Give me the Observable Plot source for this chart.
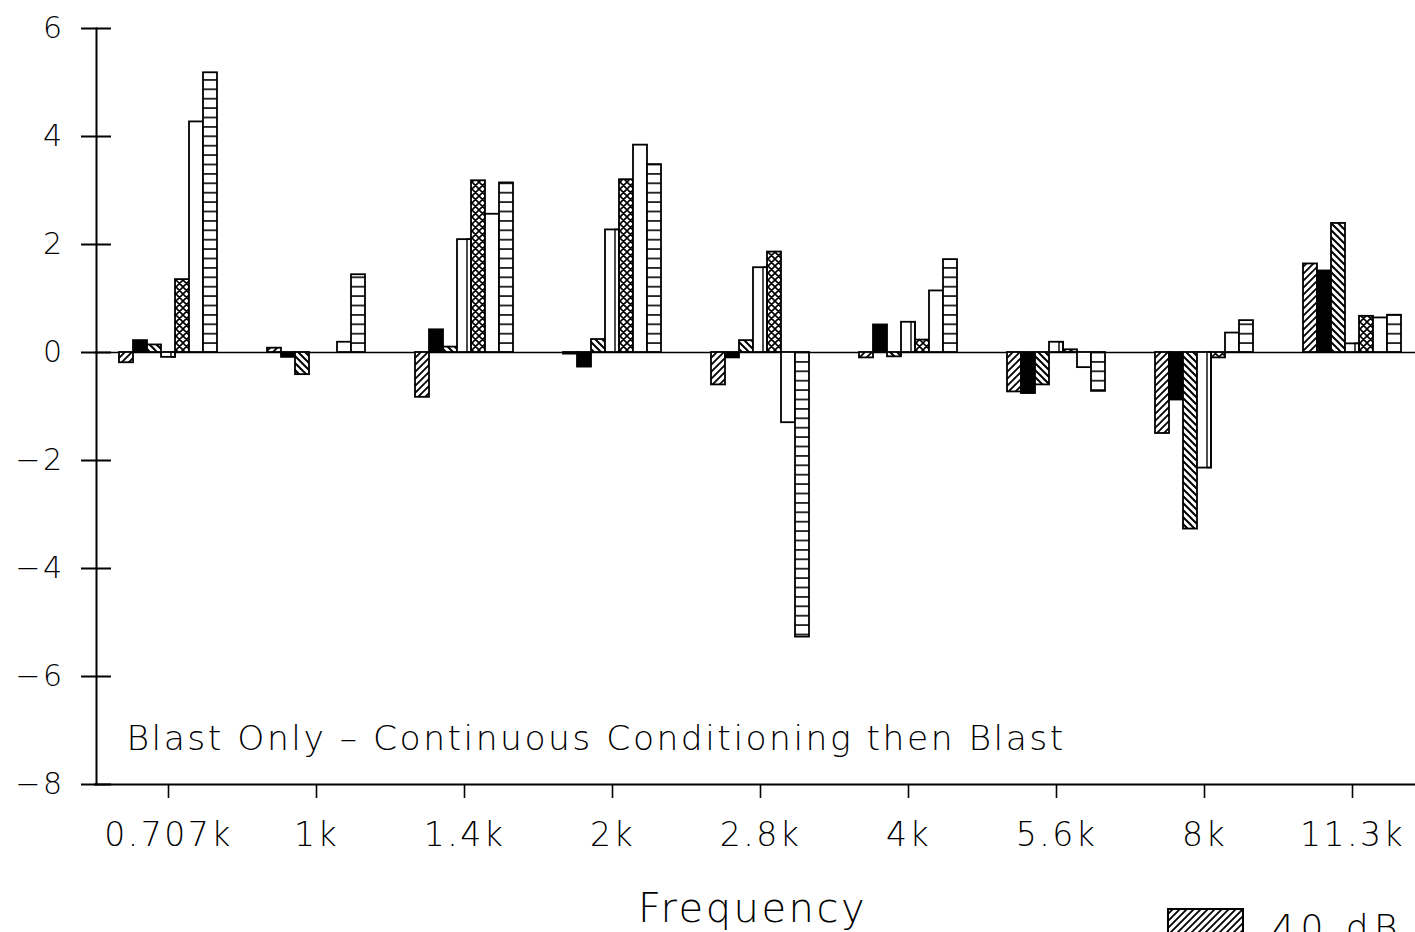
<!DOCTYPE html>
<html>
<head>
<meta charset="utf-8">
<script src="https://cdn.jsdelivr.net/npm/d3@7"></script>
<script src="https://cdn.jsdelivr.net/npm/@observablehq/plot@0.6"></script>
<style>
  html, body { margin: 0; padding: 0; background: #fff; overflow: hidden; }
  #wrap { position: relative; width: 1415px; height: 932px; overflow: hidden; background: #fff; }
  #wrap > svg { max-width: none !important; height: 932px !important; }
  #wrap svg text { letter-spacing: 2.5px; font-weight: 200; }
  #legend { position: absolute; left: 1167px; top: 908px; display: flex; align-items: flex-start;
            font-family: "DejaVu Sans"; font-size: 36px; font-weight: 200; letter-spacing: 5.5px; }
  #legend span { margin-left: 28px; line-height: 1; padding-top: 2px; }
</style>
</head>
<body>
<div id="wrap"></div>
<script>
// ---- data ----
const frequencies = ["0.707k", "1k", "1.4k", "2k", "2.8k", "4k", "5.6k", "8k", "11.3k"];
const seriesNames = ["40 dB", "Series 2", "Series 3", "Series 4", "Series 5", "Series 6", "Series 7"];
const series1 = [-0.19, 0.08, -0.83, -0.03, -0.60, -0.10, -0.73, -1.50, 1.64];
const series2 = [0.22, -0.09, 0.42, -0.27, -0.10, 0.51, -0.76, -0.88, 1.51];
const series3 = [0.14, -0.41, 0.10, 0.24, 0.22, -0.08, -0.60, -3.27, 2.39];
const series4 = [-0.09, 0.00, 2.09, 2.27, 1.57, 0.56, 0.19, -2.14, 0.16];
const series5 = [1.35, 0.00, 3.18, 3.20, 1.86, 0.23, 0.05, -0.10, 0.67];
const series6 = [4.27, 0.19, 2.56, 3.84, -1.30, 1.14, -0.28, 0.36, 0.64];
const series7 = [5.18, 1.44, 3.14, 3.48, -5.27, 1.72, -0.72, 0.59, 0.69];
const yTicks = [-8, -6, -4, -2, 0, 2, 4, 6];
const annotation = "Blast Only – Continuous Conditioning then Blast";
const xLabel = "Frequency";

// fills for each series (patterns are defined below)
const seriesFills = ["url(#p-fwd)", "black", "url(#p-back)", "white", "url(#p-cross)", "white", "url(#p-horiz)"];

const allSeries = [series1, series2, series3, series4, series5, series6, series7];
const rows = [];
frequencies.forEach((f, i) => {
  allSeries.forEach((vals, j) => rows.push({freq: f, series: seriesNames[j], value: vals[i]}));
});

const chart = Plot.plot({
  width: 1426,
  height: 932,
  marginLeft: 93,
  marginRight: 0,
  marginTop: 28,
  marginBottom: 148,
  style: {fontFamily: "DejaVu Sans", fontSize: "33px", color: "black", background: "white", overflow: "visible"},
  fx: {domain: frequencies, padding: 0, axis: null},
  x: {domain: seriesNames, paddingInner: 0, paddingOuter: 1.5, axis: null},
  y: {domain: [-8, 6], axis: null},
  color: {type: "ordinal", domain: seriesNames, range: seriesFills},
  marks: [
    Plot.ruleY([0], {stroke: "black", strokeWidth: 1.6}),
    Plot.ruleY([-8], {stroke: "black", strokeWidth: 2}),
    Plot.frame({anchor: "left", facetAnchor: "left", stroke: "black", strokeWidth: 2, dx: 2}),
    Plot.barY(rows, {fx: "freq", x: "series", y: "value", fill: "series", stroke: "black", strokeWidth: 1.8}),
    Plot.barY(rows.filter(d => d.series === seriesNames[3]),
      {fx: "freq", x: "series", y: "value", fill: "none", stroke: "black", strokeWidth: 1.4, insetLeft: 10}),
    Plot.axisY({ticks: yTicks, tickSize: 30, dx: 17, tickPadding: 17, fontSize: 30, label: null, strokeWidth: 2}),
    Plot.axisFx({anchor: "bottom", tickSize: 14, tickPadding: 24, fontSize: 33, label: null, strokeWidth: 1.6}),
    Plot.text([xLabel], {fx: () => frequencies[4], text: d => d, frameAnchor: "bottom",
      textAnchor: "middle", lineAnchor: "middle", dx: -8, dy: 125, fontSize: 40}),
    Plot.text([annotation], {fx: () => frequencies[0], text: d => d, frameAnchor: "bottom-left",
      textAnchor: "start", lineAnchor: "middle", dx: 32, dy: -46, fontSize: 34.5})
  ]
});

// pattern definitions
function addPatterns(svgSel, prefix) {
  const defs = svgSel.insert("defs", ":first-child");
  function hatch(id, w, h, d, sw) {
    const p = defs.append("pattern").attr("id", prefix + id)
      .attr("patternUnits", "userSpaceOnUse").attr("width", w).attr("height", h);
    p.append("rect").attr("width", w).attr("height", h).attr("fill", "white");
    p.append("path").attr("d", d).attr("stroke", "black").attr("stroke-width", sw).attr("fill", "none");
  }
  hatch("p-fwd", 7, 7, "M-1,8 L8,-1 M-1,1 L1,-1 M6,8 L8,6", 1.8);
  hatch("p-back", 7, 7, "M-1,-1 L8,8 M6,-1 L8,1 M-1,6 L1,8", 2.0);
  hatch("p-cross", 7, 7, "M-1,-1 L8,8 M8,-1 L-1,8 M-1,6 L1,8 M6,-1 L8,1 M-1,1 L1,-1 M6,8 L8,6", 1.6);
  hatch("p-horiz", 10, 9.4, "M-1,4.7 L11,4.7", 1.6);
}
addPatterns(d3.select(chart), "");

const wrap = document.getElementById("wrap");
wrap.appendChild(chart);

// legend (only the first entry is inside the visible page area)
const legend = document.createElement("div");
legend.id = "legend";
const sw = d3.create("svg").attr("width", 77).attr("height", 40);
addPatterns(sw, "lg-");
sw.append("rect").attr("x", 1).attr("y", 1).attr("width", 75).attr("height", 38)
  .attr("fill", "url(#lg-p-fwd)").attr("stroke", "black").attr("stroke-width", 2);
legend.appendChild(sw.node());
const lt = document.createElement("span");
lt.textContent = seriesNames[0];
legend.appendChild(lt);
wrap.appendChild(legend);
</script>
</body>
</html>
